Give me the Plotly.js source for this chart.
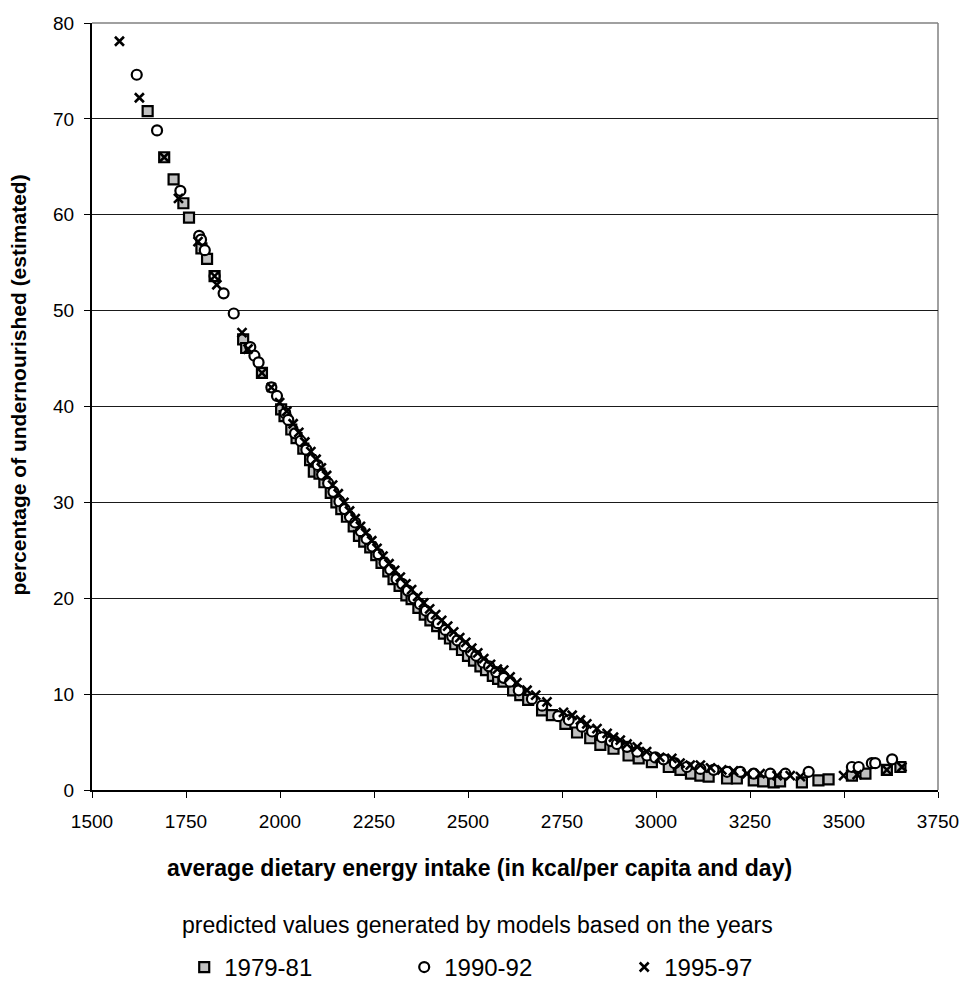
<!DOCTYPE html>
<html>
<head>
<meta charset="utf-8">
<script src="https://cdn.plot.ly/plotly-3.0.1.min.js"></script>
<style>
html,body{margin:0;padding:0;background:#fff;}
#chart{width:961px;height:994px;}
</style>
</head>
<body>
<div id="chart"></div>
<script>
// ---- data ----
const seriesNames = ["1979-81", "1990-92", "1995-97"];

const x7981 = [1648,1692,1717,1743,1758,1791,1806,1826,1902,1910,1952,2003,2012,2030,2044,2062,2080,2090,2105,2118,2135,2150,2163,2178,2196,2210,2224,2240,2256,2270,2288,2302,2318,2336,2350,2368,2385,2400,2418,2436,2452,2466,2484,2500,2516,2533,2548,2566,2580,2594,2620,2639,2660,2697,2723,2759,2790,2825,2852,2887,2927,2954,2989,3034,3065,3093,3118,3140,3189,3215,3260,3285,3313,3330,3388,3432,3459,3521,3557,3614,3650];
const y7981 = [70.8,66.0,63.7,61.2,59.7,56.5,55.4,53.6,47.0,46.1,43.5,39.7,39.0,37.6,36.7,35.6,34.4,33.2,33.0,32.1,31.0,30.0,29.3,28.5,27.5,26.5,25.9,25.3,24.5,23.7,22.8,22.0,21.3,20.3,19.9,19.0,18.3,17.7,17.1,16.3,15.8,15.2,14.6,14.0,13.5,12.9,12.5,11.9,11.6,11.3,10.4,9.9,9.4,8.3,7.8,6.9,6.0,5.4,4.7,4.3,3.6,3.3,2.9,2.4,2.1,1.7,1.5,1.4,1.2,1.2,1.0,0.9,0.8,0.9,0.8,1.0,1.1,1.5,1.7,2.1,2.4];

const x9092 = [1619,1673,1735,1785,1790,1800,1826,1850,1877,1921,1932,1943,1977,1992,2014,2022,2040,2055,2070,2086,2100,2112,2128,2142,2158,2172,2186,2200,2215,2230,2246,2262,2278,2293,2310,2325,2340,2356,2372,2388,2405,2420,2440,2458,2472,2490,2508,2522,2540,2556,2575,2595,2612,2635,2670,2697,2740,2768,2803,2830,2856,2880,2896,2923,2950,2976,2998,3020,3050,3082,3118,3153,3189,3224,3260,3304,3344,3406,3521,3539,3574,3583,3628];
const y9092 = [74.6,68.8,62.5,57.8,57.4,56.3,53.6,51.8,49.7,46.2,45.3,44.6,42.0,41.1,39.3,38.6,37.2,36.4,35.5,34.5,33.9,32.9,32.0,31.1,30.1,29.3,28.5,27.9,27.0,26.2,25.4,24.6,23.7,23.0,22.0,21.5,20.8,20.0,19.4,18.7,18.0,17.4,16.7,16.0,15.6,15.0,14.4,14.0,13.3,12.9,12.3,11.7,11.3,10.4,9.5,8.8,7.7,7.3,6.6,6.1,5.5,5.1,4.8,4.5,4.0,3.6,3.4,3.2,2.8,2.4,2.2,2.1,1.9,1.9,1.7,1.7,1.7,1.9,2.4,2.4,2.8,2.8,3.2];

const x9597 = [1573,1626,1692,1730,1782,1826,1832,1899,1915,1952,1977,1999,2018,2035,2050,2066,2082,2096,2110,2124,2140,2155,2170,2185,2200,2214,2228,2244,2258,2274,2290,2305,2320,2335,2350,2366,2382,2398,2414,2430,2446,2462,2478,2494,2510,2526,2542,2560,2578,2595,2612,2630,2657,2680,2710,2754,2777,2799,2816,2843,2870,2887,2905,2923,2950,2975,3010,3042,3064,3091,3118,3145,3175,3206,3242,3277,3322,3357,3384,3499,3535,3614,3654];
const y9597 = [78.1,72.2,66.0,61.7,57.2,53.6,52.7,47.7,46.0,43.5,42.0,40.4,39.5,38.2,37.3,36.3,35.3,34.5,33.6,32.8,31.8,30.9,30.0,29.1,28.3,27.5,26.8,26.0,25.2,24.4,23.6,22.9,22.2,21.5,20.9,20.2,19.5,18.9,18.3,17.7,17.1,16.5,15.9,15.4,14.8,14.3,13.7,13.1,12.6,12.5,11.8,11.2,10.4,9.9,9.2,8.1,7.8,7.3,6.9,6.4,5.9,5.5,5.2,4.8,4.5,4.0,3.4,3.3,2.8,2.6,2.6,2.3,2.1,2.0,1.7,1.7,1.5,1.5,1.4,1.5,1.6,2.1,2.4];

const xTickVals = [1500,1750,2000,2250,2500,2750,3000,3250,3500,3750];
const yTickVals = [0,10,20,30,40,50,60,70,80];

const xTitle = "average dietary energy intake (in kcal/per capita and day)";
const yTitle = "percentage of undernourished (estimated)";
const legendTitle = "predicted values generated by models based on the years";

// ---- chart ----
const FONT = "Liberation Sans, Arial, sans-serif";

const traces = [
  {
    type: "scatter", mode: "markers", name: seriesNames[0],
    x: x7981, y: y7981,
    marker: {symbol: "square", size: 10, color: "#c0c0c0", line: {color: "#000", width: 2.2}}
  },
  {
    type: "scatter", mode: "markers", name: seriesNames[1],
    x: x9092, y: y9092,
    marker: {symbol: "circle", size: 10, color: "#ffffff", line: {color: "#000", width: 2.2}}
  },
  {
    type: "scatter", mode: "markers", name: seriesNames[2],
    x: x9597, y: y9597,
    marker: {symbol: "x-thin-open", size: 9, color: "#000", line: {color: "#000", width: 2.6}}
  }
];

const layout = {
  width: 961, height: 994,
  margin: {l: 92, r: 23, t: 23, b: 204, autoexpand: false},
  paper_bgcolor: "#fff", plot_bgcolor: "#fff",
  font: {family: FONT, color: "#000", size: 19},
  showlegend: true,
  legend: {
    orientation: "h",
    x: 0.109, xanchor: "left",
    y: -0.202, yanchor: "top",
    font: {family: FONT, size: 24, color: "#000"},
    entrywidth: 175, entrywidthmode: "pixels",
    itemclick: false, itemdoubleclick: false,
    bgcolor: "rgba(0,0,0,0)"
  },
  xaxis: {
    range: [1500, 3750],
    tickvals: xTickVals,
    ticktext: xTickVals.map(String),
    showgrid: false, zeroline: false,
    showline: true, linecolor: "#000", linewidth: 2,
    ticks: "outside", ticklen: 6, tickwidth: 1, tickcolor: "#000",
    ticklabelstandoff: 7,
    tickfont: {family: FONT, size: 19, color: "#000"},
    fixedrange: true
  },
  yaxis: {
    range: [0, 80],
    tickvals: yTickVals,
    ticktext: yTickVals.map(String),
    showgrid: true, gridcolor: "#1a1a1a", gridwidth: 1,
    zeroline: false,
    showline: true, linecolor: "#000", linewidth: 2,
    ticks: "outside", ticklen: 6, tickwidth: 1, tickcolor: "#000",
    ticklabelstandoff: 6,
    tickfont: {family: FONT, size: 19, color: "#000"},
    fixedrange: true
  },
  shapes: [
    {type: "line", xref: "paper", yref: "paper", x0: 1, x1: 1, y0: 0, y1: 1,
     line: {color: "#808080", width: 1.5}, layer: "below"},
    {type: "line", xref: "paper", yref: "paper", x0: 0, x1: 1, y0: 1, y1: 1,
     line: {color: "#808080", width: 1.5}, layer: "below"}
  ],
  annotations: [
    {text: xTitle, xref: "paper", yref: "paper", x: 0.458, y: -0.1017, xanchor: "center", yanchor: "middle",
     showarrow: false, font: {family: FONT, size: 23, color: "#000", weight: 700}},
    {text: legendTitle, xref: "paper", yref: "paper", x: 0.456, y: -0.176, xanchor: "center", yanchor: "middle",
     showarrow: false, font: {family: FONT, size: 23, color: "#000"}},
    {text: yTitle, xref: "paper", yref: "paper", x: -0.088, y: 0.528, xanchor: "center", yanchor: "middle",
     textangle: -90, showarrow: false, font: {family: FONT, size: 21, color: "#000", weight: 700}}
  ]
};

Plotly.newPlot("chart", traces, layout, {displayModeBar: false, staticPlot: true});
</script>
</body>
</html>
